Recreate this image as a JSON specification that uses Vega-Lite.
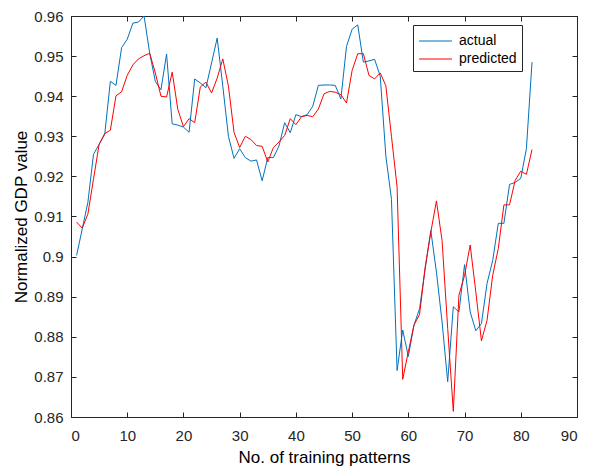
{
  "$schema": "https://vega.github.io/schema/vega-lite/v6.json",
  "width": 506,
  "height": 401,
  "autosize": {"type": "none"},
  "padding": {"left": 71, "top": 16, "right": 14, "bottom": 55},
  "background": "white",
  "config": {
    "font": "Liberation Sans",
    "view": {"stroke": "#262626", "strokeWidth": 1},
    "axis": {
      "grid": false,
      "domainColor": "#262626",
      "tickColor": "#262626",
      "tickSize": -5,
      "labelColor": "#262626",
      "labelFontSize": 15,
      "titleFontSize": 17,
      "titleFontWeight": "normal",
      "titleColor": "#000000"
    }
  },
  "data": {
    "values": [
      {"x":1,"actual":0.9003,"predicted":0.9086},
      {"x":2,"actual":0.9069,"predicted":0.9071},
      {"x":3,"actual":0.9135,"predicted":0.9106},
      {"x":4,"actual":0.9255,"predicted":0.9193},
      {"x":5,"actual":0.928,"predicted":0.928},
      {"x":6,"actual":0.9305,"predicted":0.9307},
      {"x":7,"actual":0.9437,"predicted":0.9315},
      {"x":8,"actual":0.9427,"predicted":0.9401},
      {"x":9,"actual":0.9521,"predicted":0.9411},
      {"x":10,"actual":0.9542,"predicted":0.9452},
      {"x":11,"actual":0.9582,"predicted":0.9478},
      {"x":12,"actual":0.9585,"predicted":0.9493},
      {"x":13,"actual":0.96,"predicted":0.9501},
      {"x":14,"actual":0.9507,"predicted":0.9507},
      {"x":15,"actual":0.9437,"predicted":0.9458},
      {"x":16,"actual":0.9416,"predicted":0.94},
      {"x":17,"actual":0.9505,"predicted":0.9398},
      {"x":18,"actual":0.9331,"predicted":0.946},
      {"x":19,"actual":0.9328,"predicted":0.9367},
      {"x":20,"actual":0.9323,"predicted":0.9324},
      {"x":21,"actual":0.931,"predicted":0.9344},
      {"x":22,"actual":0.9443,"predicted":0.9334},
      {"x":23,"actual":0.9433,"predicted":0.9423},
      {"x":24,"actual":0.9421,"predicted":0.9435},
      {"x":25,"actual":0.9483,"predicted":0.9408},
      {"x":26,"actual":0.9545,"predicted":0.9445},
      {"x":27,"actual":0.9425,"predicted":0.9493},
      {"x":28,"actual":0.93,"predicted":0.9425},
      {"x":29,"actual":0.9245,"predicted":0.931},
      {"x":30,"actual":0.9269,"predicted":0.9272},
      {"x":31,"actual":0.9247,"predicted":0.93},
      {"x":32,"actual":0.9238,"predicted":0.9292},
      {"x":33,"actual":0.9241,"predicted":0.9277},
      {"x":34,"actual":0.9189,"predicted":0.9275},
      {"x":35,"actual":0.9247,"predicted":0.9236},
      {"x":36,"actual":0.9247,"predicted":0.9272},
      {"x":37,"actual":0.9276,"predicted":0.9286},
      {"x":38,"actual":0.9334,"predicted":0.9302},
      {"x":39,"actual":0.9309,"predicted":0.9344},
      {"x":40,"actual":0.9354,"predicted":0.9329},
      {"x":41,"actual":0.9349,"predicted":0.9349},
      {"x":42,"actual":0.9354,"predicted":0.9352},
      {"x":43,"actual":0.9375,"predicted":0.9349},
      {"x":44,"actual":0.9427,"predicted":0.9368},
      {"x":45,"actual":0.9428,"predicted":0.9406},
      {"x":46,"actual":0.9428,"predicted":0.9412},
      {"x":47,"actual":0.9427,"predicted":0.941},
      {"x":48,"actual":0.9393,"predicted":0.9404},
      {"x":49,"actual":0.9524,"predicted":0.9383},
      {"x":50,"actual":0.9567,"predicted":0.9464},
      {"x":51,"actual":0.9578,"predicted":0.9506},
      {"x":52,"actual":0.9485,"predicted":0.9506},
      {"x":53,"actual":0.9488,"predicted":0.9452},
      {"x":54,"actual":0.9492,"predicted":0.9443},
      {"x":55,"actual":0.945,"predicted":0.9458},
      {"x":56,"actual":0.9251,"predicted":0.9426},
      {"x":57,"actual":0.9143,"predicted":0.93},
      {"x":58,"actual":0.8716,"predicted":0.9174},
      {"x":59,"actual":0.8817,"predicted":0.8694},
      {"x":60,"actual":0.8751,"predicted":0.8763},
      {"x":61,"actual":0.8829,"predicted":0.8829},
      {"x":62,"actual":0.887,"predicted":0.8856},
      {"x":63,"actual":0.897,"predicted":0.8974},
      {"x":64,"actual":0.9065,"predicted":0.9061},
      {"x":65,"actual":0.8961,"predicted":0.9139},
      {"x":66,"actual":0.8837,"predicted":0.904},
      {"x":67,"actual":0.8688,"predicted":0.8821},
      {"x":68,"actual":0.8875,"predicted":0.8614},
      {"x":69,"actual":0.8862,"predicted":0.8904},
      {"x":70,"actual":0.898,"predicted":0.8953},
      {"x":71,"actual":0.8862,"predicted":0.9029},
      {"x":72,"actual":0.8815,"predicted":0.8912},
      {"x":73,"actual":0.8833,"predicted":0.879},
      {"x":74,"actual":0.8933,"predicted":0.8841},
      {"x":75,"actual":0.899,"predicted":0.8953},
      {"x":76,"actual":0.9083,"predicted":0.902},
      {"x":77,"actual":0.9083,"predicted":0.9129},
      {"x":78,"actual":0.918,"predicted":0.9129},
      {"x":79,"actual":0.9185,"predicted":0.919},
      {"x":80,"actual":0.9195,"predicted":0.9213},
      {"x":81,"actual":0.9269,"predicted":0.9205},
      {"x":82,"actual":0.9485,"predicted":0.9267}
    ]
  },
  "transform": [{"fold": ["actual", "predicted"], "as": ["series", "value"]}],
  "resolve": {"axis": {"x": "independent", "y": "independent"}},
  "layer": [
    {
      "mark": {"type": "line", "strokeWidth": 1, "clip": true},
      "encoding": {
        "x": {
          "field": "x",
          "type": "quantitative",
          "scale": {"domain": [0, 90], "nice": false, "zero": false},
          "axis": {"orient": "bottom", "values": [0,10,20,30,40,50,60,70,80,90], "title": "No. of training patterns", "labelPadding": 16, "titlePadding": 6}
        },
        "y": {
          "field": "value",
          "type": "quantitative",
          "scale": {"domain": [0.86, 0.96], "nice": false, "zero": false},
          "axis": {"orient": "left", "values": [0.86,0.87,0.88,0.89,0.9,0.91,0.92,0.93,0.94,0.95,0.96], "format": ".2~f", "title": "Normalized GDP value", "labelPadding": 13, "titlePadding": 3}
        },
        "color": {
          "field": "series",
          "type": "nominal",
          "scale": {"domain": ["actual", "predicted"], "range": ["#0072BD", "#FF0000"]},
          "legend": {
            "title": null,
            "orient": "none",
            "legendX": 342,
            "legendY": 9,
            "symbolType": "M-1,0H2.3",
            "symbolSize": 400,
            "symbolStrokeWidth": 1.2,
            "labelFontSize": 14,
            "labelColor": "#000000",
            "strokeColor": "#262626",
            "fillColor": "white",
            "padding": 5,
            "rowPadding": -1,
            "labelOffset": 19
          }
        }
      }
    },
    {
      "mark": {"type": "line", "opacity": 0},
      "encoding": {
        "x": {
          "field": "x",
          "type": "quantitative",
          "axis": {"orient": "top", "values": [0,10,20,30,40,50,60,70,80,90], "labels": false, "title": null}
        },
        "y": {
          "field": "value",
          "type": "quantitative",
          "axis": {"orient": "right", "values": [0.86,0.87,0.88,0.89,0.9,0.91,0.92,0.93,0.94,0.95,0.96], "labels": false, "title": null}
        },
        "detail": {"field": "series"}
      }
    }
  ]
}
